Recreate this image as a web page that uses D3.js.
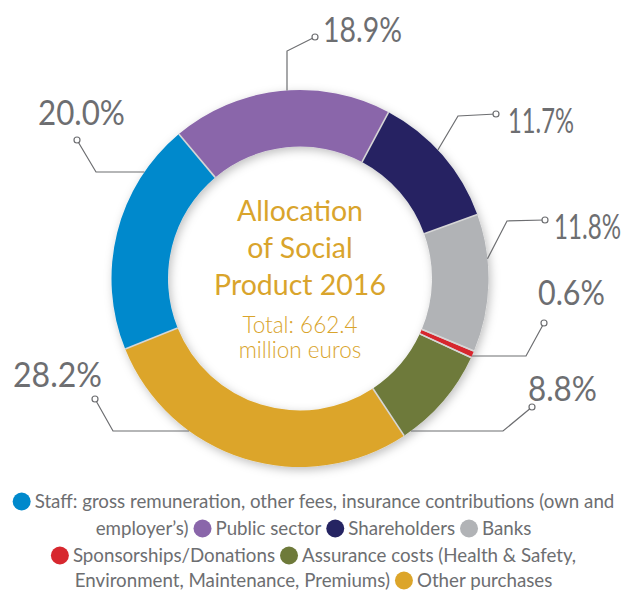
<!DOCTYPE html>
<html>
<head>
<meta charset="utf-8">
<script src="https://cdn.jsdelivr.net/npm/d3@7/dist/d3.min.js"></script>
<style>
  html, body { margin: 0; padding: 0; background: #fff; }
  svg { display: block; }
</style>
</head>
<body>
<svg id="chart" width="627" height="590"></svg>
<script>
// Allocation of Social Product 2016 — shares in percent
const categories = [
  "Staff: gross remuneration, other fees, insurance contributions (own and employer’s)",
  "Public sector",
  "Shareholders",
  "Banks",
  "Sponsorships/Donations",
  "Assurance costs (Health & Safety, Environment, Maintenance, Premiums)",
  "Other purchases"
];
const shares = [20.0, 18.9, 11.7, 11.8, 0.6, 8.8, 28.2];
const colors = ["#0089cc", "#8a66aa", "#252462", "#b1b3b6", "#d7282f", "#6e7a3a", "#dca52a"];

const titleLines = ["Allocation", "of Social", "Product 2016"];
const totalLines = ["Total: 662.4", "million euros"];

// Legend rows: swatch index or text fragment, wrapped as laid out under the ring
const legendRows = [
  [{s: 0}, {t: "Staff: gross remuneration, other fees, insurance contributions (own and"}],
  [{t: "employer’s)"}, {s: 1}, {t: "Public sector"}, {s: 2}, {t: "Shareholders"}, {s: 3}, {t: "Banks"}],
  [{s: 4}, {t: "Sponsorships/Donations"}, {s: 5}, {t: "Assurance costs (Health & Safety,"}],
  [{t: "Environment, Maintenance, Premiums)"}, {s: 6}, {t: "Other purchases"}]
];

// Callout placement for each slice label (text box left/baseline/width, dot, elbow, how the last leg meets the ring)
const callouts = [
  {text: [38, 125, 87],  dot: [77, 140],  elbow: [96, 172],  meet: "left"},
  {text: [323, 42, 79],  dot: [315, 37],  elbow: [287, 51],  meet: "top"},
  {text: [508, 133, 66], dot: [496, 114], elbow: [458, 116], meet: 47},
  {text: [554, 239, 67], dot: [545, 220], elbow: [507, 221], meet: 84},
  {text: [538, 305, 67], dot: [544, 323], elbow: [526, 356], meet: "right"},
  {text: [528, 401, 69], dot: [532, 407], elbow: [503, 431], meet: "right"},
  {text: [13, 387, 89],  dot: [95, 399],  elbow: [113, 431], meet: "left"}
];

const W = 627, H = 590;
const cx = 300, cy = 278.5;
const rOuter = 188.5, rInner = 132;
const startDeg = -112;
const textGray = "#6d6e71";
const gold = "#d9a42c";

const svg = d3.select("#chart");
const defs = svg.append("defs");
const f = defs.append("filter").attr("id", "ringShadow")
  .attr("x", "-20%").attr("y", "-20%").attr("width", "140%").attr("height", "140%");
f.append("feDropShadow").attr("dx", 2).attr("dy", 3).attr("stdDeviation", 5)
  .attr("flood-color", "#000").attr("flood-opacity", 0.25);

const rad = d => d * Math.PI / 180;
const pie = d3.pie().sort(null).value(d => d)
  .startAngle(rad(startDeg)).endAngle(rad(startDeg + 360));
const arcs = pie(shares);
const arc = d3.arc().innerRadius(rInner).outerRadius(rOuter);

const ring = svg.append("g").attr("transform", `translate(${cx},${cy})`);
const slices = ring.append("g").attr("filter", "url(#ringShadow)");
slices.selectAll("path").data(arcs).join("path")
  .attr("d", arc)
  .attr("fill", (d, i) => colors[i]);

// thin light separators on slice boundaries
const sepAngles = arcs.map(d => d.startAngle);
ring.append("g").selectAll("line").data(sepAngles).join("line")
  .attr("x1", a => rInner * Math.sin(a)).attr("y1", a => -rInner * Math.cos(a))
  .attr("x2", a => rOuter * Math.sin(a)).attr("y2", a => -rOuter * Math.cos(a))
  .attr("stroke", "#d6d6d6").attr("stroke-width", 1.6);

// the thin red slice gets a light edge on both sides
const tiny = arcs[4];
ring.append("g").selectAll("line").data([tiny.startAngle, tiny.endAngle]).join("line")
  .attr("x1", a => rInner * Math.sin(a)).attr("y1", a => -rInner * Math.cos(a))
  .attr("x2", a => rOuter * Math.sin(a)).attr("y2", a => -rOuter * Math.cos(a))
  .attr("stroke", "#d6d6d6").attr("stroke-width", 1.4);

// centre text
const titleBase = [221, 258, 295];
svg.append("g").selectAll("text").data(titleLines).join("text")
  .attr("x", cx).attr("y", (d, i) => titleBase[i])
  .attr("text-anchor", "middle")
  .attr("font-family", "Lato, 'Open Sans', sans-serif")
  .attr("font-size", 28.5).attr("fill", gold)
  .text(d => d);
const totalBase = [333, 358];
svg.append("g").selectAll("text").data(totalLines).join("text")
  .attr("x", cx).attr("y", (d, i) => totalBase[i])
  .attr("text-anchor", "middle")
  .attr("font-family", "Lato, 'Open Sans', sans-serif")
  .attr("font-weight", 300)
  .attr("font-size", 22.5).attr("fill", gold)
  .text(d => d);

// callouts
function ringPoint(c) {
  const [ex, ey] = c.elbow;
  if (c.meet === "left" || c.meet === "right") {
    const dx = Math.sqrt(rOuter * rOuter - (ey - cy) * (ey - cy));
    return [c.meet === "left" ? cx - dx : cx + dx, ey];
  }
  if (c.meet === "top") {
    const dy = Math.sqrt(rOuter * rOuter - (ex - cx) * (ex - cx));
    return [ex, cy - dy];
  }
  const a = rad(c.meet);
  return [cx + rOuter * Math.sin(a), cy - rOuter * Math.cos(a)];
}
const fmt = d3.format(".1f");
const co = svg.append("g");
callouts.forEach((c, i) => {
  const p = ringPoint(c);
  co.append("polyline")
    .attr("points", [c.dot, c.elbow, p].map(q => q.join(",")).join(" "))
    .attr("fill", "none").attr("stroke", textGray).attr("stroke-width", 1.2);
  co.append("circle").attr("cx", c.dot[0]).attr("cy", c.dot[1]).attr("r", 3)
    .attr("fill", "#fff").attr("stroke", textGray).attr("stroke-width", 1.2);
  // narrow the label horizontally so it fills its box
  const t = co.append("text")
    .attr("x", 0).attr("y", 0)
    .attr("font-family", "Lato, 'Open Sans', sans-serif")
    .attr("font-size", 35)
    .attr("fill", textGray)
    .text(fmt(shares[i]) + "%");
  const sx = c.text[2] / t.node().getComputedTextLength();
  t.attr("transform", `translate(${c.text[0]},${c.text[1]}) scale(${sx},1)`);
});

// legend
const legendBase = [508, 535, 562, 587];
const legendCenter = 313.5;
const swR = 9;
const legend = svg.append("g")
  .attr("font-family", "Lato, 'Open Sans', sans-serif")
  .attr("fill", textGray);

// size the legend font so the first row spans its width
const probe = legend.append("text").attr("font-size", 18).text(legendRows[0][1].t);
const probeW = probe.node().getComputedTextLength();
probe.remove();
const legendFont = 18 * 580 / probeW;

legendRows.forEach((row, ri) => {
  const g = legend.append("g");
  let x = 0;
  row.forEach((seg, si) => {
    if (seg.s !== undefined) {
      if (si > 0) x += 5;
      g.append("circle").attr("cx", x + swR).attr("cy", legendBase[ri] - 6.5)
        .attr("r", swR).attr("fill", colors[seg.s]);
      x += 2 * swR + 4;
    } else {
      const t = g.append("text").attr("x", x).attr("y", legendBase[ri])
        .attr("font-size", legendFont).text(seg.t);
      x += t.node().getComputedTextLength();
    }
  });
  g.attr("transform", `translate(${legendCenter - x / 2},0)`);
});
</script>
</body>
</html>
